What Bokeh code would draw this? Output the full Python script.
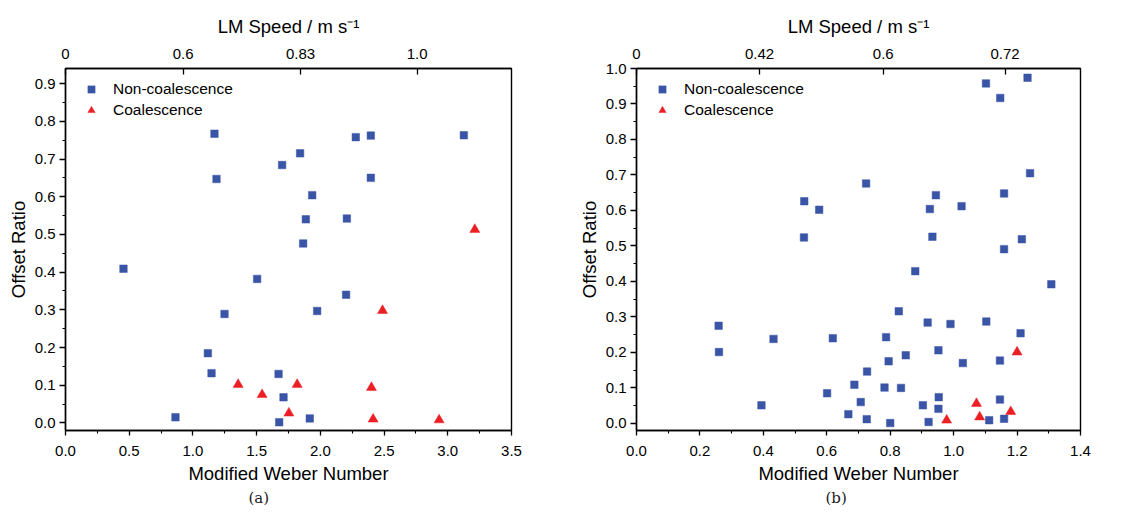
from bokeh.plotting import figure
from bokeh.layouts import row
from bokeh.models import LinearAxis, FixedTicker, Legend, LegendItem, Range1d, Title, PrintfTickFormatter
from bokeh.embed import file_html
from bokeh.resources import INLINE

# ---------------- Panel (a) data ----------------
a_non_x = [1.169, 1.185, 1.700, 1.841, 1.936, 1.886, 1.865, 2.208, 2.278, 2.396, 2.396, 3.126,
           0.455, 1.504, 1.248, 1.975, 2.202, 1.117, 1.146, 1.672, 1.711, 0.863, 1.677, 1.917]
a_non_y = [0.767, 0.647, 0.684, 0.715, 0.604, 0.540, 0.476, 0.542, 0.758, 0.762, 0.650, 0.763,
           0.409, 0.382, 0.289, 0.297, 0.340, 0.185, 0.132, 0.130, 0.068, 0.015, 0.002, 0.012]
a_coal_x = [3.212, 1.355, 1.543, 1.818, 1.753, 2.401, 2.488, 2.414, 2.932]
a_coal_y = [0.513, 0.102, 0.075, 0.102, 0.026, 0.094, 0.298, 0.010, 0.008]
a_x_ticks = [0.0, 0.5, 1.0, 1.5, 2.0, 2.5, 3.0, 3.5]
a_x_minor = [0.25, 0.75, 1.25, 1.75, 2.25, 2.75, 3.25]
a_y_ticks = [0.0, 0.1, 0.2, 0.3, 0.4, 0.5, 0.6, 0.7, 0.8, 0.9]
a_y_minor = [0.05, 0.15, 0.25, 0.35, 0.45, 0.55, 0.65, 0.75, 0.85]
a_top_ticks = [0.0, 0.923, 1.844, 2.76]
a_top_labels = ["0", "0.6", "0.83", "1.0"]

# ---------------- Panel (b) data ----------------
b_non_x = [1.102, 1.147, 1.233, 1.241, 0.724, 0.529, 0.576, 0.528, 0.925, 0.944, 1.025, 0.933,
           1.159, 1.215, 1.159,
           0.879, 1.308, 0.259, 0.260, 0.432, 0.619, 0.827, 0.918, 0.990, 1.103, 1.211, 0.787,
           0.795, 0.849, 0.952, 1.029, 1.146, 0.727, 0.687, 0.601, 0.782, 0.834, 0.394, 0.707,
           0.668, 0.726, 0.800, 0.903, 0.953, 0.952, 0.921, 1.146, 1.112, 1.159]
b_non_y = [0.958, 0.917, 0.974, 0.705, 0.676, 0.626, 0.602, 0.524, 0.604, 0.643, 0.612, 0.526,
           0.648, 0.519, 0.491,
           0.429, 0.392, 0.275, 0.201, 0.238, 0.240, 0.316, 0.284, 0.280, 0.287, 0.254, 0.243,
           0.175, 0.192, 0.206, 0.170, 0.177, 0.146, 0.109, 0.085, 0.101, 0.100, 0.051, 0.060,
           0.026, 0.012, 0.001, 0.051, 0.074, 0.041, 0.004, 0.067, 0.009, 0.013]
b_coal_x = [0.978, 1.072, 1.082, 1.180, 1.200]
b_coal_y = [0.009, 0.056, 0.018, 0.033, 0.201]
b_x_ticks = [0.0, 0.2, 0.4, 0.6, 0.8, 1.0, 1.2, 1.4]
b_x_minor = [0.1, 0.3, 0.5, 0.7, 0.9, 1.1, 1.3]
b_y_ticks = [0.0, 0.1, 0.2, 0.3, 0.4, 0.5, 0.6, 0.7, 0.8, 0.9, 1.0]
b_y_minor = [0.05, 0.15, 0.25, 0.35, 0.45, 0.55, 0.65, 0.75, 0.85, 0.95]
b_top_ticks = [0.0, 0.388, 0.778, 1.162]
b_top_labels = ["0", "0.42", "0.6", "0.72"]

FONT = "Liberation Sans"
BLUE = "#3a55a6"
RED = "#ec1f24"


def style_axis(ax, size="15px"):
    ax.axis_line_color = "black"
    ax.axis_line_width = 1.4
    ax.major_tick_line_color = "black"
    ax.major_tick_line_width = 1.3
    ax.minor_tick_line_color = "black"
    ax.minor_tick_line_width = 1.1
    ax.major_label_text_font = FONT
    ax.major_label_text_font_size = size
    ax.major_label_text_color = "black"
    ax.axis_label_text_font = FONT
    ax.axis_label_text_font_size = "18.5px"
    ax.axis_label_text_font_style = "normal"
    ax.axis_label_text_color = "black"


def make_panel(nx, ny, cx, cy, xr, yr, xt, xm, yt, ym, tt, tl, caption, cap_off, w, bl, br):
    p = figure(width=w, height=507, x_range=Range1d(*xr), y_range=Range1d(*yr),
               output_backend="svg", toolbar_location=None,
               min_border_left=bl, min_border_right=br, min_border_top=68, min_border_bottom=77)
    p.background_fill_color = "white"
    p.border_fill_color = "white"
    p.outline_line_color = "black"
    p.outline_line_width = 1.4
    p.outline_line_alpha = 1.0
    p.grid.visible = False

    xa = p.xaxis[0]
    xa.ticker = FixedTicker(ticks=xt, minor_ticks=xm)
    xa.formatter = PrintfTickFormatter(format="%.1f")
    xa.axis_label = "Modified Weber Number"
    style_axis(xa)
    xa.major_tick_out = 5
    xa.major_tick_in = 0
    xa.minor_tick_out = 3
    xa.minor_tick_in = 0
    xa.major_label_standoff = 10
    xa.axis_label_standoff = 4

    ya = p.yaxis[0]
    ya.ticker = FixedTicker(ticks=yt, minor_ticks=ym)
    ya.formatter = PrintfTickFormatter(format="%.1f")
    ya.axis_label = "Offset Ratio"
    style_axis(ya)
    ya.major_tick_out = 6
    ya.major_tick_in = 0
    ya.minor_tick_out = 3
    ya.minor_tick_in = 0
    ya.major_label_standoff = 4
    ya.axis_label_standoff = 3

    top = LinearAxis(ticker=FixedTicker(ticks=tt, minor_ticks=[]),
                     major_label_overrides={t: l for t, l in zip(tt, tl)},
                     axis_label="LM Speed / m s\u207b\u00b9")
    style_axis(top)
    top.major_tick_in = 6
    top.major_tick_out = 0
    top.minor_tick_in = 0
    top.minor_tick_out = 0
    top.major_label_standoff = 10
    top.axis_label_standoff = 9
    p.add_layout(top, "above")

    r1 = p.scatter(nx, ny, marker="square", size=7.5, fill_color=BLUE, line_color=BLUE, line_width=0.5)
    r2 = p.scatter(cx, cy, marker="triangle", size=10, fill_color=RED, line_color=RED, line_width=0.5)

    leg = Legend(items=[LegendItem(label="Non-coalescence", renderers=[r1]),
                        LegendItem(label="Coalescence", renderers=[r2])],
                 location="top_left")
    leg.border_line_color = None
    leg.background_fill_alpha = 0
    leg.margin = 12
    leg.padding = 8
    leg.glyph_width = 28
    leg.glyph_height = 18
    leg.label_height = 18
    leg.spacing = 3
    leg.label_standoff = 8
    leg.label_text_font = FONT
    leg.label_text_font_size = "15.5px"
    leg.label_text_color = "black"
    p.add_layout(leg)

    cap = Title(text=caption, align="left", text_font="DejaVu Serif", text_font_size="15px",
                text_font_style="normal", text_color="#222222", offset=cap_off,
                standoff=0, padding=0)
    p.add_layout(cap, "below")
    return p


pa = make_panel(a_non_x, a_non_y, a_coal_x, a_coal_y, (0.0, 3.5), (-0.02, 0.94),
                a_x_ticks, a_x_minor, a_y_ticks, a_y_minor, a_top_ticks, a_top_labels,
                "(a)", 183, 569, 65, 58)
pb = make_panel(b_non_x, b_non_y, b_coal_x, b_coal_y, (0.0, 1.4), (-0.02, 1.0),
                b_x_ticks, b_x_minor, b_y_ticks, b_y_minor, b_top_ticks, b_top_labels,
                "(b)", 189, 553, 67, 42)

layout = row(pa, pb)
open("out.html", "w").write(file_html(layout, INLINE))
